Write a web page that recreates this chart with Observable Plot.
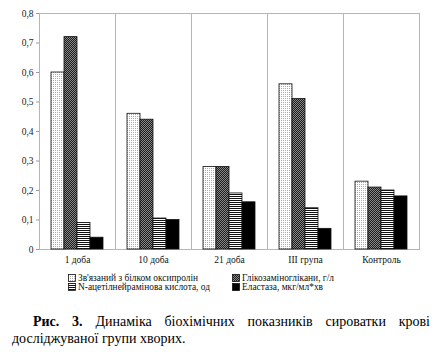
<!DOCTYPE html>
<html><head><meta charset="utf-8">
<script src="https://cdn.jsdelivr.net/npm/d3@7"></script>
<script src="https://cdn.jsdelivr.net/npm/@observablehq/plot@0.6"></script>
<style>
body{margin:0;background:#fff;width:434px;height:352px;position:relative;overflow:hidden;font-family:'Liberation Serif';color:#111;}
#defs{position:absolute;left:0;top:0;width:0;height:0;}
#chart{position:absolute;left:0;top:0;}
.leg{position:absolute;font-family:'Liberation Serif';font-size:9.4px;line-height:8.6px;height:8.6px;white-space:nowrap;display:flex;align-items:center;}
.leg svg{margin-right:2px;}
#caption{position:absolute;left:12px;top:313px;width:418px;font-family:'Liberation Serif';font-size:14px;line-height:17px;color:#000;}
#caption .l1{text-align:justify;text-align-last:justify;padding-left:21px;white-space:nowrap;}
#caption .l2{text-align:left;white-space:nowrap;}
</style></head><body>
<svg id="defs" width="0" height="0">
<defs>
<pattern id="p1" width="2" height="2" patternUnits="userSpaceOnUse">
<rect width="2" height="2" fill="#fff"/><rect x="0" y="0" width="1" height="1" fill="#aaa"/>
</pattern>
<pattern id="p2" width="2" height="2" patternUnits="userSpaceOnUse">
<rect width="2" height="2" fill="#8a8a8a"/><rect x="0" y="0" width="1" height="1" fill="#1a1a1a"/><rect x="1" y="1" width="1" height="1" fill="#1a1a1a"/>
</pattern>
<pattern id="p3" width="2" height="2" patternUnits="userSpaceOnUse">
<rect width="2" height="2" fill="#fff"/><rect x="0" y="0" width="2" height="1" fill="#111"/>
</pattern>
</defs>
</svg>
<div id="chart"></div>
<div id="legend"></div>
<div id="caption"><div class="l1" style="white-space:normal"><b>Рис. 3.</b> Динаміка біохімічних показників сироватки крові</div><div class="l2">досліджуваної групи хворих.</div></div>
<script>
const categories = ["1 доба", "10 доба", "21 доба", "III група", "Контроль"];
const series = ["Зв'язаний з білком оксипролін", "Глікозаміноглікани, г/л", "N-ацетілнейрамінова кислота, од", "Еластаза, мкг/мл*хв"];
const oxyproline = [0.60, 0.46, 0.28, 0.56, 0.23];
const glycosaminoglycans = [0.72, 0.44, 0.28, 0.51, 0.21];
const acetylneuraminic = [0.09, 0.105, 0.19, 0.14, 0.20];
const elastase = [0.04, 0.10, 0.16, 0.07, 0.18];
const yTicks = [0, 0.1, 0.2, 0.3, 0.4, 0.5, 0.6, 0.7, 0.8];

const seriesValues = [oxyproline, glycosaminoglycans, acetylneuraminic, elastase];
const fills = ["url(#p1)", "url(#p2)", "url(#p3)", "#000"];
const rows = [];
series.forEach((s, i) => categories.forEach((c, j) => rows.push({category: c, series: s, value: seriesValues[i][j]})));

const fmt = d => d === 0 ? "0" : d.toFixed(1).replace(".", ",");

const chart = Plot.plot({
  width: 434, height: 268,
  marginTop: 13, marginBottom: 19, marginLeft: 38, marginRight: 15,
  style: {fontFamily: "'Liberation Serif'", fontSize: "9.5px", background: "white", color: "#111"},
  fx: {domain: categories, padding: 0, label: null, axis: "bottom", tickSize: 0, tickPadding: 7},
  x: {domain: series, axis: null, paddingInner: 0, paddingOuter: 0.77},
  y: {domain: [0, 0.8], axis: null},
  marks: [
    Plot.frame({stroke: "#b5b5b5", strokeWidth: 1}),
    ...series.map((s, i) => Plot.barY(rows.filter(d => d.series === s), {
      fx: "category", x: "series", y: "value", fill: fills[i], stroke: "#111", strokeWidth: 0.8, insetLeft: 0, insetRight: 0
    })),
    Plot.axisY({ticks: yTicks, tickFormat: fmt, tickSize: 3, tickPadding: 3, stroke: "#999", fill: "#222", label: null})
  ]
});
document.getElementById("chart").appendChild(chart);

// legend
const legendPos = [[68, 273.5], [232, 273.5], [68, 282.5], [232, 282.5]];
const legend = document.getElementById("legend");
series.forEach((s, i) => {
  const el = document.createElement("div");
  el.className = "leg";
  el.style.left = legendPos[i][0] + "px";
  el.style.top = legendPos[i][1] + "px";
  el.innerHTML = `<svg width="8" height="8"><rect x="0.5" y="0.5" width="7" height="7" fill="${fills[i]}" stroke="#111" stroke-width="0.8"/></svg><span>${s}</span>`;
  legend.appendChild(el);
});
</script>
</body></html>
